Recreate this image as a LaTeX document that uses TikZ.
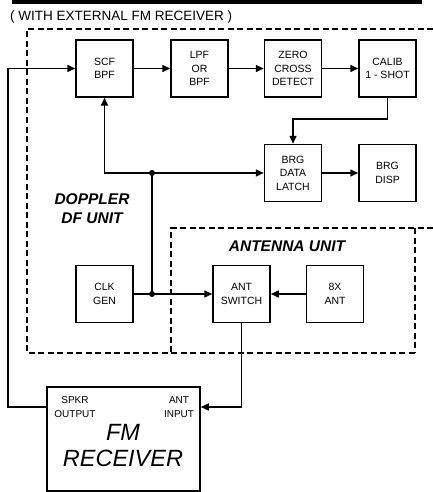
\documentclass[tikz,border=0pt]{standalone}
\usepackage{fontspec}
\setmainfont{Liberation Sans}
\usetikzlibrary{arrows.meta}
\begin{document}
\begin{tikzpicture}[x=1pt,y=-1pt,
  blk/.style={draw,line width=1.5pt,minimum width=57pt,minimum height=57pt,align=center,
    font=\fontsize{10.5}{13.5}\selectfont,inner sep=0pt},
  arr/.style={-{Triangle[length=8pt,width=7pt]},line width=1.5pt},
  ln/.style={line width=1.5pt},
  unitbox/.style={dash pattern=on 6pt off 3.5pt,line width=1.5pt},
  dot/.style={circle,fill,inner sep=0pt,minimum size=6pt},
  lbl/.style={align=center,inner sep=0pt,font=\fontsize{10}{14}\selectfont},
  unitlbl/.style={align=center,inner sep=0pt,font=\fontsize{15.5}{19}\selectfont\bfseries\itshape}]
\useasboundingbox (0,0) rectangle (433,492);
\fill (12,0) rectangle (422,4);
\node[anchor=west,inner sep=0pt,font=\fontsize{13.5}{15}\selectfont] (title) at (10,17) {( WITH EXTERNAL FM RECEIVER )};
% dashed unit boxes
\draw[unitbox] (433,29) -- (27,29) -- (27,353) -- (415,353);
\draw[unitbox] (433,228) -- (171,228) -- (171,353);
\draw[unitbox] (415,228) -- (415,353);
% blocks
\node[blk] (scf) at (104.5,68.5) {SCF\\BPF};
\node[blk] (lpf) at (199.5,68.5) {LPF\\OR\\BPF};
\node[blk] (zero) at (293,68.5) {ZERO\\CROSS\\DETECT};
\node[blk] (cal) at (387.5,68.5) {CALIB\\1 - SHOT};
\node[blk] (lat) at (293,173) {BRG\\DATA\\LATCH};
\node[blk] (disp) at (387.5,173) {BRG\\DISP};
\node[blk] (clk) at (104.5,294) {CLK\\GEN};
\node[blk] (sw) at (241.5,294) {ANT\\SWITCH};
\node[blk] (ant) at (335,294) {8X\\ANT};
\node[draw,line width=1.5pt,minimum width=153pt,minimum height=104pt,inner sep=0pt] (fm) at (123.5,439) {};
\node[lbl] (spkr) at (75,407) {SPKR\\OUTPUT};
\node[lbl] (antin) at (179,407) {ANT\\INPUT};
\node[align=center,inner sep=0pt,font=\fontsize{23.5}{26}\selectfont\itshape] (fmtxt) at (123,446) {FM\\RECEIVER};
\node[unitlbl] (dop) at (92,208.5) {DOPPLER\\DF UNIT};
\node[unitlbl] (antu) at (287,246) {ANTENNA UNIT};
% junctions
\node[dot] (d1) at (152,173) {};
\node[dot] (d2) at (152,294) {};
\coordinate (lft) at (8,68.5);
% connectors
\draw[arr] (scf) -- (lpf);
\draw[arr] (lpf) -- (zero);
\draw[arr] (zero) -- (cal);
\draw[arr] (cal.south) -- ++(0,21) -| (lat.north);
\draw[arr] (lat) -- (disp);
\draw[arr] (d1.center) -- (lat.west);
\draw[arr] (d1.center) -| (scf.south);
\draw[ln] (d1.center) -- (d2.center);
\draw[arr] (clk.east) -- (sw.west);
\draw[arr] (ant.west) -- (sw.east);
\draw[arr] (sw.south) |- (fm.east |- antin);
\draw[arr] (fm.west |- spkr) -| (lft) -- (scf.west);
\end{tikzpicture}
\end{document}
